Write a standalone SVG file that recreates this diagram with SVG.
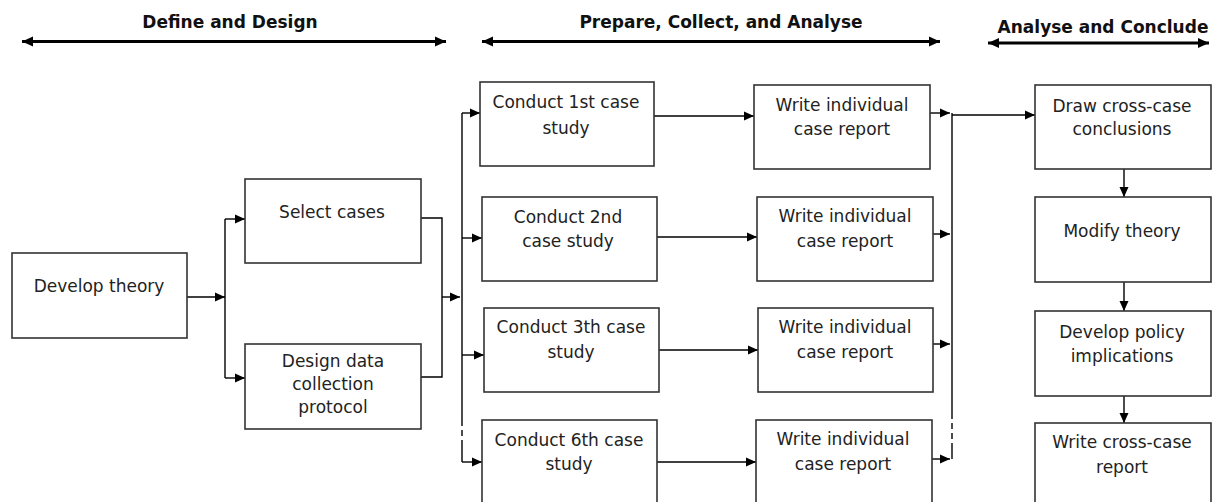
<svg xmlns="http://www.w3.org/2000/svg" width="1222" height="502" viewBox="0 0 1222 502">
<defs>
<marker id="ah" markerUnits="userSpaceOnUse" markerWidth="12" markerHeight="12" refX="10" refY="6" orient="auto"><path d="M0,1.5 L10,6 L0,10.5 Z" fill="#000"/></marker>
<marker id="hh" markerUnits="userSpaceOnUse" markerWidth="12" markerHeight="12" refX="11" refY="6" orient="auto-start-reverse"><path d="M0,1 L11,6 L0,11 Z" fill="#000"/></marker>
</defs>
<style>
.box{fill:#fff;stroke:#333;stroke-width:1.6}
.t{font-family:"DejaVu Sans",Verdana,sans-serif;font-size:17px;fill:#222;text-anchor:middle}
.h{font-family:"DejaVu Sans",Verdana,sans-serif;font-size:17px;font-weight:bold;fill:#111;text-anchor:middle}
.c{fill:none;stroke:#000;stroke-width:1.4}
.ph{fill:none;stroke:#000;stroke-width:3.2}
</style>
<rect width="1222" height="502" fill="#fff"/>
<g id="phases">
<text class="h" x="230" y="28">Define and Design</text>
<path class="ph" d="M22,41.5 H446" marker-start="url(#hh)" marker-end="url(#hh)"/>
<text class="h" x="721" y="28">Prepare, Collect, and Analyse</text>
<path class="ph" d="M482,41.5 H940" marker-start="url(#hh)" marker-end="url(#hh)"/>
<text class="h" x="1103" y="33">Analyse and Conclude</text>
<path class="ph" d="M988,43 H1209" marker-start="url(#hh)" marker-end="url(#hh)"/>
</g>
<g id="connectors">
<path class="c" d="M187,297 H225" marker-end="url(#ah)"/>
<path class="c" d="M225,219 V378"/>
<path class="c" d="M225,219 H245" marker-end="url(#ah)"/>
<path class="c" d="M225,378 H245" marker-end="url(#ah)"/>
<path class="c" d="M421,218 H442 V377 H421"/>
<path class="c" d="M442,297 H460" marker-end="url(#ah)"/>
<path class="c" d="M462,113 V420"/>
<path class="c" d="M462,420 V446" stroke-dasharray="6,4"/>
<path class="c" d="M462,446 V462"/>
<path class="c" d="M462,113 H480" marker-end="url(#ah)"/>
<path class="c" d="M462,238 H482" marker-end="url(#ah)"/>
<path class="c" d="M462,355 H484" marker-end="url(#ah)"/>
<path class="c" d="M462,462 H482" marker-end="url(#ah)"/>
<path class="c" d="M654,116 H754" marker-end="url(#ah)"/>
<path class="c" d="M657,237 H757" marker-end="url(#ah)"/>
<path class="c" d="M659,350 H758" marker-end="url(#ah)"/>
<path class="c" d="M657,462 H756" marker-end="url(#ah)"/>
<path class="c" d="M930,113 H950" marker-end="url(#ah)"/>
<path class="c" d="M933,234 H950" marker-end="url(#ah)"/>
<path class="c" d="M933,344 H950" marker-end="url(#ah)"/>
<path class="c" d="M932,459 H950" marker-end="url(#ah)"/>
<path class="c" d="M952,113 V413"/>
<path class="c" d="M952,413 V447" stroke-dasharray="6,4"/>
<path class="c" d="M952,447 V459"/>
<path class="c" d="M952,115 H1035" marker-end="url(#ah)"/>
<path class="c" d="M1124,169 V197" marker-end="url(#ah)"/>
<path class="c" d="M1124,282 V311" marker-end="url(#ah)"/>
<path class="c" d="M1124,396 V423" marker-end="url(#ah)"/>
</g>
<g id="develop-theory"><rect class="box" x="12" y="253" width="175" height="85"/><text class="t" x="99" y="292">Develop theory</text></g>
<g id="select-cases"><rect class="box" x="245" y="179" width="176" height="84"/><text class="t" x="332" y="218">Select cases</text></g>
<g id="design-protocol"><rect class="box" x="245" y="344" width="176" height="85"/><text class="t" x="333" y="367">Design data</text><text class="t" x="333" y="390">collection</text><text class="t" x="333" y="413">protocol</text></g>
<g id="conduct-1"><rect class="box" x="480" y="82" width="174" height="84"/><text class="t" x="566" y="108">Conduct 1st case</text><text class="t" x="566" y="134">study</text></g>
<g id="conduct-2"><rect class="box" x="482" y="197" width="175" height="84"/><text class="t" x="568" y="223">Conduct 2nd</text><text class="t" x="568" y="247">case study</text></g>
<g id="conduct-3"><rect class="box" x="484" y="308" width="175" height="84"/><text class="t" x="571" y="333">Conduct 3th case</text><text class="t" x="571" y="358">study</text></g>
<g id="conduct-6"><rect class="box" x="482" y="420" width="175" height="90"/><text class="t" x="569" y="446">Conduct 6th case</text><text class="t" x="569" y="470">study</text></g>
<g id="write-1"><rect class="box" x="754" y="85" width="176" height="84"/><text class="t" x="842" y="111">Write individual</text><text class="t" x="842" y="135">case report</text></g>
<g id="write-2"><rect class="box" x="757" y="197" width="176" height="84"/><text class="t" x="845" y="222">Write individual</text><text class="t" x="845" y="247">case report</text></g>
<g id="write-3"><rect class="box" x="758" y="308" width="175" height="84"/><text class="t" x="845" y="333">Write individual</text><text class="t" x="845" y="358">case report</text></g>
<g id="write-4"><rect class="box" x="756" y="420" width="176" height="90"/><text class="t" x="843" y="445">Write individual</text><text class="t" x="843" y="470">case report</text></g>
<g id="draw-conclusions"><rect class="box" x="1035" y="85" width="176" height="84"/><text class="t" x="1122" y="112">Draw cross-case</text><text class="t" x="1122" y="135">conclusions</text></g>
<g id="modify-theory"><rect class="box" x="1035" y="197" width="176" height="85"/><text class="t" x="1122" y="237">Modify theory</text></g>
<g id="policy-implications"><rect class="box" x="1035" y="311" width="176" height="85"/><text class="t" x="1122" y="338">Develop policy</text><text class="t" x="1122" y="362">implications</text></g>
<g id="cross-case-report"><rect class="box" x="1035" y="423" width="176" height="90"/><text class="t" x="1122" y="448">Write cross-case</text><text class="t" x="1122" y="473">report</text></g>
</svg>
